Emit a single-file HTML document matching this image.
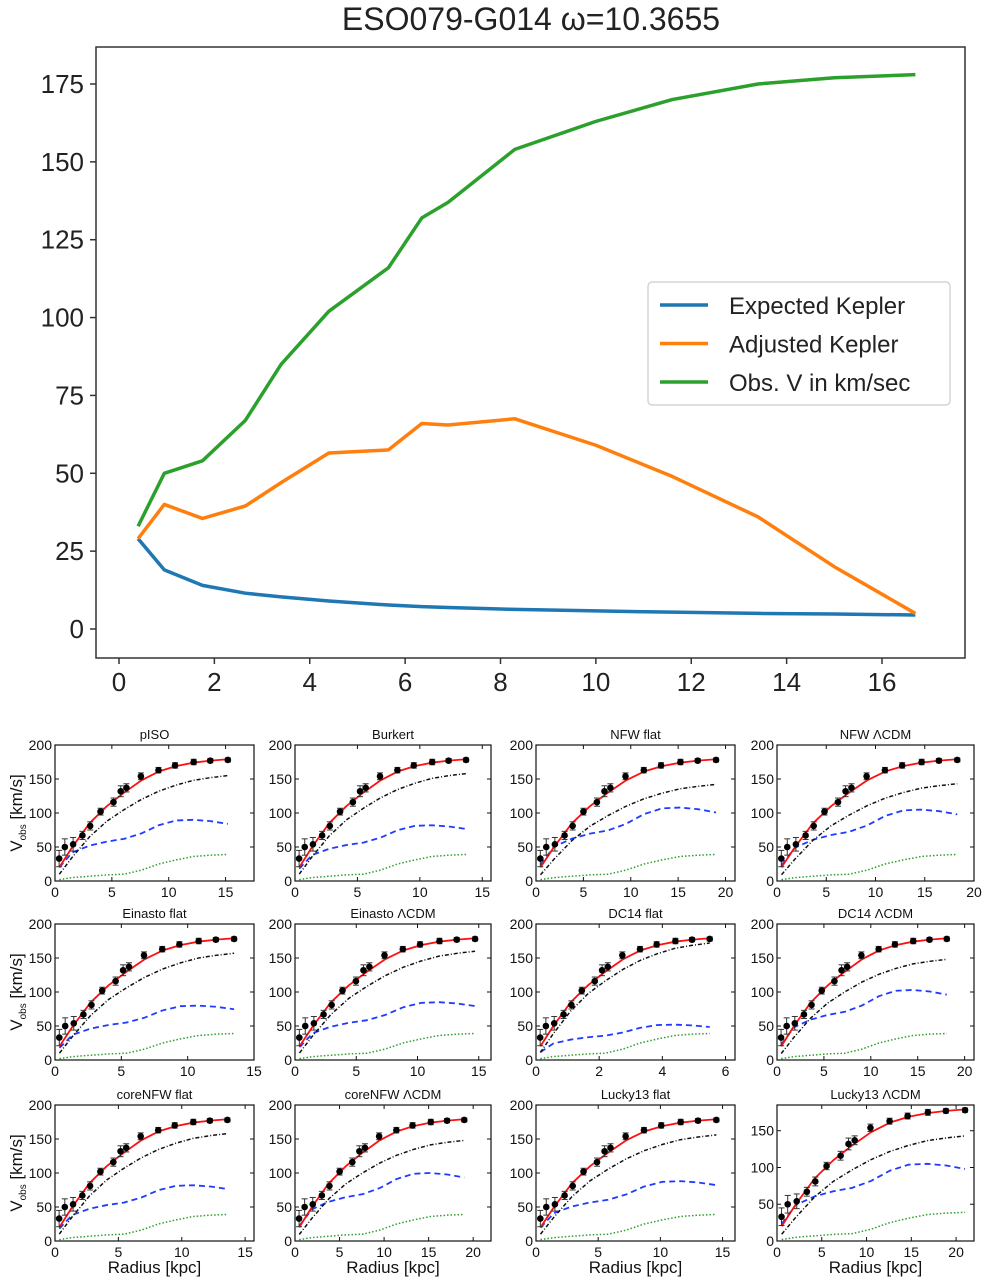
<!DOCTYPE html>
<html><head><meta charset="utf-8">
<style>
html,body{margin:0;padding:0;background:#fff;}
svg{display:block;font-family:"Liberation Sans","DejaVu Sans",sans-serif;}
</style></head>
<body>
<svg id="root" width="982" height="1285" viewBox="0 0 982 1285" xmlns="http://www.w3.org/2000/svg">
<g id="top"></g>
<g id="panels"></g>
</svg>
<script>
// ---------- main chart data ----------
const radii = [0.4,0.95,1.75,2.65,3.4,4.4,5.65,6.35,6.9,8.3,10,11.6,13.4,15,16.7];
const obsV = [33,50,54,67,85,102,116,132,137,154,163,170,175,177,178];
const adjV = [29,40,35.5,39.5,47,56.5,57.5,66,65.5,67.5,59,49,36,20,5];
const expV = [29,19,14,11.5,10.3,9,7.7,7.2,6.9,6.3,5.8,5.4,5,4.8,4.5];
const topXTicks = [0,2,4,6,8,10,12,14,16];
const topYTicks = [0,25,50,75,100,125,150,175];
const legendLabels = ["Expected Kepler","Adjusted Kepler","Obs. V in km/sec"];

// ---------- panel data ----------
const panelTitles = ["pISO","Burkert","NFW flat","NFW \u039BCDM","Einasto flat","Einasto \u039BCDM","DC14 flat","DC14 \u039BCDM","coreNFW flat","coreNFW \u039BCDM","Lucky13 flat","Lucky13 \u039BCDM"];
const panelXMax = [17.5,15.7,21,20,15,16,6.3,21,15.7,22,16,22];
const panelXTicks = [[0,5,10,15],[0,5,10,15],[0,5,10,15,20],[0,5,10,15,20],[0,5,10,15],[0,5,10,15],[0,2,4,6],[0,5,10,15,20],[0,5,10,15],[0,5,10,15,20],[0,5,10,15],[0,5,10,15,20]];
const panelLastR = [15.2,13.7,19,18.3,13.5,14.7,5.5,18.1,13.6,19,14.5,21];
const panelBluePeak = [90,82,108,105,80,85,52,103,82,100,88,105];
const panelDashEnd = [155,158,142,143,157,160,172,148,158,148,156,143];
const panelObs = [33,50,54,67,81,102,116,132,137,154,163,170,175,177,178];
const panelErr = [12,12,10,6,6,5,6,8,6,5,4,4,4,3,3];
const curveFrac = [0.025,0.1,0.2,0.3,0.4,0.5,0.6,0.7,0.8,0.9,1.0];
const redFit = [20,50,85,110,130,148,161,169,174,177,179];
const dashShape = [10,35,65,88,105,120,132,141,148,152,155];
const blueShape = [20,42,52,58,62,70,82,89,90,88,84];
const greenDot = [2,5,7,9,10,16,25,31,36,38,39];

const NS="http://www.w3.org/2000/svg";
function mk(tag,attrs,parent){const e=document.createElementNS(NS,tag);for(const k in attrs)e.setAttribute(k,attrs[k]);parent.appendChild(e);return e;}

// ---------- main chart ----------
(function(){
 const g=document.getElementById('top');
 const L=96,R=965,T=47,B=658;
 const x=v=>119+v*(882-119)/16;
 const y=v=>629-v*(629-84)/175;
 const t=mk('text',{x:531,y:30,'font-size':32,'text-anchor':'middle',fill:'#222'},g);
 t.textContent='ESO079-G014 \u03C9=10.3655';
 
 
 const fr=mk('rect',{x:L,y:T,width:R-L,height:B-T,fill:'none',stroke:'#333','stroke-width':1.5},g);
 
 
 topYTicks.forEach(v=>{
  mk('line',{x1:L-6,x2:L,y1:y(v),y2:y(v),stroke:'#333','stroke-width':1.5},g);
  const e=mk('text',{x:L-12,y:y(v)+9,'font-size':26,'text-anchor':'end',fill:'#222'},g);
  e.textContent=v;
  
  
 });
 topXTicks.forEach(v=>{
  mk('line',{x1:x(v),x2:x(v),y1:B,y2:B+6,stroke:'#333','stroke-width':1.5},g);
  const e=mk('text',{x:x(v),y:B+33,'font-size':26,'text-anchor':'middle',fill:'#222'},g);
  e.textContent=v;
  
  
 });
 const series=[[expV,'#1f77b4','expected-kepler-line'],[adjV,'#ff7f0e','adjusted-kepler-line'],[obsV,'#2ca02c','observed-velocity-line']];
 series.forEach(([d,c,n])=>{
  const p=mk('polyline',{points:radii.map((r,i)=>x(r)+','+y(d[i])).join(' '),fill:'none',stroke:c,'stroke-width':3.5,'stroke-linejoin':'round'},g);
  
  
 });
 const lg=mk('g',{},g);
 
 
 mk('rect',{x:648,y:282,width:302,height:123,rx:4,fill:'#fff',stroke:'#ccc','stroke-width':1.2},lg);
 legendLabels.forEach((l,i)=>{
  const yy=305+i*38.5;
  mk('line',{x1:660,x2:708,y1:yy,y2:yy,stroke:series[i][1],'stroke-width':3.5},lg);
  const e=mk('text',{x:729,y:yy+9,'font-size':24,fill:'#222'},lg);
  e.textContent=l;
  
  
 });
})();

// ---------- panels ----------
(function(){
 const root=document.getElementById('panels');
 const colL=[55,295,536,777], colW=[199,196,199,197];
 const rowT=[745,924,1105], H=136;
 panelTitles.forEach((title,k)=>{
  const c=k%4,r=Math.floor(k/4);
  const L=colL[c],W=colW[c],T=rowT[r],B=T+H;
  const ymax=(k===11)?185:200;
  const g=mk('g',{},root);
  
  
  const x=v=>L+v*W/panelXMax[k];
  const y=v=>B-v*H/ymax;
  const tt=mk('text',{x:L+W/2,y:T-6,'font-size':13,'text-anchor':'middle',fill:'#111'},g);
  tt.textContent=title;
  
  
  const yt=(k===11)?[0,50,100,150]:[0,50,100,150,200];
  yt.forEach(v=>{
   mk('line',{x1:L,x2:L+4,y1:y(v),y2:y(v),stroke:'#111'},g);
   mk('line',{x1:L+W-4,x2:L+W,y1:y(v),y2:y(v),stroke:'#111'},g);
   const e=mk('text',{x:L-3,y:y(v)+5,'font-size':14,'text-anchor':'end',fill:'#111'},g);
   e.textContent=v;
   
   
  });
  panelXTicks[k].forEach(v=>{
   mk('line',{x1:x(v),x2:x(v),y1:B,y2:B-4,stroke:'#111'},g);
   mk('line',{x1:x(v),x2:x(v),y1:T,y2:T+4,stroke:'#111'},g);
   const e=mk('text',{x:x(v),y:B+16,'font-size':14,'text-anchor':'middle',fill:'#111'},g);
   e.textContent=v;
   
   
  });
  const lr=panelLastR[k];
  const pts=(arr,s)=>curveFrac.map((f,i)=>x(f*lr)+','+y(arr[i]*s)).join(' ');
  const gp=mk('polyline',{points:pts(greenDot,1),fill:'none',stroke:'#2ca02c','stroke-width':1.5,'stroke-dasharray':'1.5,2'},g);
  
  
  const bp=mk('polyline',{points:pts(blueShape,panelBluePeak[k]/90),fill:'none',stroke:'#1f3bff','stroke-width':1.8,'stroke-dasharray':'6,4'},g);
  
  
  const dp=mk('polyline',{points:pts(dashShape,panelDashEnd[k]/155),fill:'none',stroke:'#111','stroke-width':1.5,'stroke-dasharray':'4,2,1,2'},g);
  
  
  const rp=mk('polyline',{points:pts(redFit,1),fill:'none',stroke:'#ff1010','stroke-width':1.8,'stroke-linejoin':'round'},g);
  
  
  radii.forEach((rr,i)=>{
   const px=x(rr/16.7*lr),py=y(panelObs[i]),e=panelErr[i]*H/ymax;
   mk('line',{x1:px,x2:px,y1:py-e,y2:py+e,stroke:'#333'},g);
   mk('line',{x1:px-3,x2:px+3,y1:py-e,y2:py-e,stroke:'#333'},g);
   mk('line',{x1:px-3,x2:px+3,y1:py+e,y2:py+e,stroke:'#333'},g);
   const d=mk('circle',{cx:px,cy:py,r:3.3,fill:'#000'},g);
   
   
  });
  mk('rect',{x:L,y:T,width:W,height:H,fill:'none',stroke:'#111','stroke-width':1.2},g);
  if(c===0){
   const yl=mk('text',{x:0,y:0,'font-size':17,'text-anchor':'middle',fill:'#111',transform:'translate(22,'+(T+H/2)+') rotate(-90)'},g);
   yl.innerHTML='V<tspan font-size="10" dy="4">obs</tspan><tspan dy="-4"> [km/s]</tspan>';
   
   
  }
  if(r===2){
   const xl=mk('text',{x:L+W/2,y:1273,'font-size':17,'text-anchor':'middle',fill:'#111'},g);
   xl.textContent='Radius [kpc]';
   
   
  }
 });
})();
</script>
</body></html>
